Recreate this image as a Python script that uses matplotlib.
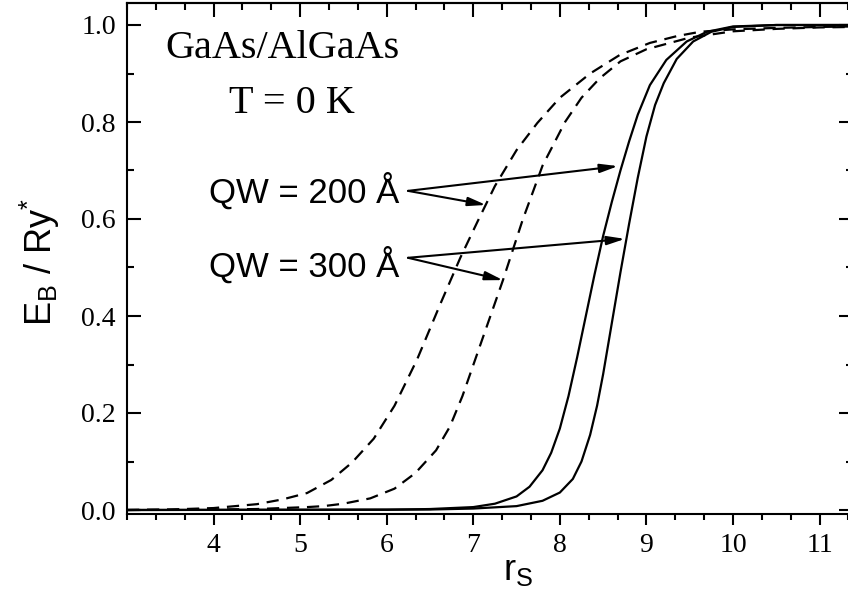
import matplotlib
matplotlib.use('Agg')
import matplotlib.pyplot as plt
from matplotlib.ticker import MultipleLocator

plt.rcParams['mathtext.fontset'] = 'custom'
plt.rcParams['mathtext.rm'] = 'Liberation Sans'
plt.rcParams['mathtext.it'] = 'Liberation Sans:italic'
plt.rcParams['mathtext.bf'] = 'Liberation Sans:bold'
plt.rcParams['mathtext.sf'] = 'Liberation Sans'

# ---- data ----
# dashed curves
x_dash_200 = [3.0, 3.5, 4.0, 4.5, 4.8, 5.08, 5.36, 5.6, 5.85, 6.09, 6.35, 6.62, 6.85, 7.05, 7.25, 7.5,
              7.74, 8.0, 8.35, 8.69, 9.04, 9.35, 9.62, 10.0, 10.5, 11.0, 11.4]
y_dash_200 = [0.0, 0.001, 0.004, 0.012, 0.022, 0.035, 0.062, 0.098, 0.147, 0.215, 0.31, 0.425, 0.52, 0.595, 0.668, 0.742,
              0.798, 0.85, 0.90, 0.938, 0.963, 0.977, 0.986, 0.991, 0.994, 0.996, 0.997]
x_dash_300 = [3.0, 4.0, 4.5, 5.08, 5.27, 5.5, 5.81, 6.09, 6.33, 6.57, 6.73, 6.875, 7.1, 7.343, 7.57,
              7.8, 8.06, 8.25, 8.46, 8.7, 9.0, 9.5, 10.0, 10.5, 11.0, 11.4]
y_dash_300 = [0.0, 0.001, 0.002, 0.006, 0.008, 0.013, 0.024, 0.044, 0.076, 0.123, 0.172, 0.235, 0.35, 0.474, 0.598,
              0.71, 0.80, 0.85, 0.89, 0.925, 0.95, 0.974, 0.987, 0.992, 0.995, 0.996]
# solid curves
x_solid_200 = [3.0, 6.0, 6.5, 7.0, 7.25, 7.5, 7.65, 7.8, 7.9, 8.0, 8.1, 8.2, 8.3, 8.4, 8.5, 8.6, 8.7,
               8.8, 8.9, 9.04, 9.23, 9.465, 9.7, 10.0, 10.5, 11.4]
y_solid_200 = [0.0, 0.0005, 0.002, 0.006, 0.013, 0.028, 0.048, 0.082, 0.118, 0.168, 0.235, 0.315, 0.40, 0.485, 0.565, 0.635, 0.70,
               0.76, 0.815, 0.876, 0.928, 0.966, 0.986, 0.997, 1.0, 1.0]
x_solid_300 = [3.0, 6.5, 7.0, 7.5, 7.8, 8.0, 8.15, 8.25, 8.35, 8.43, 8.5, 8.6, 8.7, 8.8, 8.9, 9.0, 9.1,
               9.2, 9.35, 9.54, 9.75, 10.0, 10.5, 11.4]
y_solid_300 = [0.0, 0.001, 0.003, 0.008, 0.019, 0.036, 0.064, 0.10, 0.155, 0.215, 0.28, 0.385, 0.49, 0.59, 0.685, 0.77, 0.835,
               0.88, 0.93, 0.966, 0.986, 0.996, 1.0, 1.0]

# annotation anchors
label_qw = ['QW = 200 Å', 'QW = 300 Å']
label_xy = [(6.15, 0.633), (6.15, 0.480)]
arrow_tail = [(6.246, 0.658), (6.246, 0.520)]
arrow_heads = [[(8.672, 0.709), (7.147, 0.629)], [(8.752, 0.559), (7.343, 0.474)]]

xticks_major = [4, 5, 6, 7, 8, 9, 10, 11]
yticks_major = [0.0, 0.2, 0.4, 0.6, 0.8, 1.0]

fig = plt.figure(figsize=(8.48, 6.04), dpi=100)
ax = fig.add_axes([127 / 848, 90 / 604, 725.5 / 848, 510.7 / 604])

lw = 1.6
ax.plot(x_dash_200, y_dash_200, color='black', lw=lw, linestyle=(0, (5.5, 3.5)))
ax.plot(x_dash_300, y_dash_300, color='black', lw=lw, linestyle=(0, (5.5, 3.5)))
ax.plot(x_solid_200, y_solid_200, color='black', lw=lw)
ax.plot(x_solid_300, y_solid_300, color='black', lw=lw)

ax.set_xlim(3.0, 3.0 + 725.5 / 86.57)
ax.set_ylim(-4 / 485, 506.7 / 485)

ax.set_xticks(xticks_major)
ax.set_yticks(yticks_major)
ax.set_yticklabels([f'{v:.1f}' for v in yticks_major])
ax.xaxis.set_minor_locator(MultipleLocator(1 / 3))
ax.yaxis.set_minor_locator(MultipleLocator(0.1))

for sp in ax.spines.values():
    sp.set_linewidth(1.5)

ax.tick_params(axis='x', which='major', direction='out', length=8, width=1.5, pad=6,
               bottom=True, top=False)
ax.tick_params(axis='x', which='minor', direction='out', length=4, width=1.5, bottom=True, top=False)
ax.tick_params(axis='y', which='major', direction='in', length=10, width=1.5, pad=8,
               left=True, right=True)
ax.tick_params(axis='y', which='minor', direction='in', length=5, width=1.5, left=True, right=True)
for lab in ax.get_xticklabels() + ax.get_yticklabels():
    lab.set_fontfamily('Liberation Serif')
    lab.set_fontsize(20)

sec = ax.secondary_xaxis('top')
sec.set_xticks(xticks_major)
sec.xaxis.set_minor_locator(MultipleLocator(1 / 3))
sec.tick_params(axis='x', which='major', direction='in', length=10, width=1.5, labeltop=False)
sec.tick_params(axis='x', which='minor', direction='in', length=5, width=1.5)
sec.spines['top'].set_linewidth(1.5)

ax.set_xlabel(r'r$_\mathrm{S}$', fontfamily='Liberation Sans', fontsize=26)
ax.set_ylabel(r'E$_\mathrm{B}$ / Ry$^{*}$', fontfamily='Liberation Sans', fontsize=26)
ax.xaxis.set_label_coords((518 - 127) / 725.5, (514 - 553) / 510.7)
ax.yaxis.set_label_coords((62 - 127) / 725.5, (514 - 262) / 510.7)

ax.text(4.80, 0.932, 'GaAs/AlGaAs', family='Liberation Serif', fontsize=29,
        ha='center', va='baseline')
ax.text(4.91, 0.819, 'T = 0 K', family='Liberation Serif', fontsize=29,
        ha='center', va='baseline')

for txt, (tx, ty), tail, heads in zip(label_qw, label_xy, arrow_tail, arrow_heads):
    ax.text(tx, ty, txt, family='Liberation Sans', fontsize=25, ha='right', va='baseline')
    for h in heads:
        ax.annotate('', xy=h, xytext=tail,
                    arrowprops=dict(arrowstyle='-|>,head_length=0.9,head_width=0.22',
                                    mutation_scale=12, lw=1.5, color='black',
                                    shrinkA=0, shrinkB=0))

fig.savefig('out.png', dpi=100)
